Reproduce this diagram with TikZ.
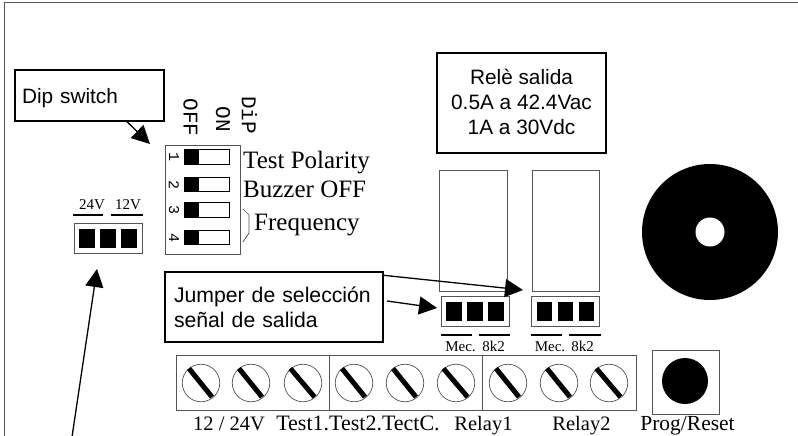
\documentclass[tikz,border=0pt]{standalone}
\usepackage{fontspec}
\setmainfont{Liberation Sans}
\newfontfamily\timesfont{Liberation Serif}
\newfontfamily\monofont{Liberation Mono}
\usetikzlibrary{arrows.meta, shapes.geometric}
\definecolor{edgegray}{gray}{0.33}

\begin{document}
\begin{tikzpicture}[x=1pt,y=-1pt,>={Triangle[length=18pt,width=18pt]},
  notebox/.style={draw=black, line width=1.4pt, fill=white, inner sep=0pt},
  partbox/.style={draw=edgegray, line width=1pt, fill=white, inner sep=0pt},
  pad/.style={fill=black, inner sep=0pt, minimum height=19pt},
  jumperbar/.style={fill=black, inner sep=0pt, minimum height=2.6pt},
  pointer/.style={->, line width=1.3pt},
  labelsmall/.style={font=\timesfont\fontsize{15}{15}\selectfont, inner sep=0pt, anchor=base},
  labelbig/.style={font=\timesfont\fontsize{25}{25}\selectfont, inner sep=0pt, anchor=base west},
  labelterm/.style={font=\timesfont\fontsize{20.5}{20.5}\selectfont, inner sep=0pt, anchor=base},
  labeldip/.style={font=\monofont\fontsize{21}{21}\selectfont, inner sep=0pt, rotate=-90},
  labelnum/.style={font=\monofont\fontsize{15}{15}\selectfont, inner sep=0pt, rotate=-90},
  jumper/.pic={
    \node[partbox, minimum width=68pt, minimum height=30pt] (box) {};
    \node[pad, minimum width=15.5pt] (a) at (-21,0) {};
    \node[pad, minimum width=15.5pt] (b) at (0,0) {};
    \node[pad, minimum width=15.5pt] (c) at (21,0) {};
  },
  slider/.pic={
    \node[draw=black, line width=0.9pt, fill=white, inner sep=0pt, minimum width=45pt, minimum height=14.5pt] (box) {};
    \node[fill=black, inner sep=0pt, minimum width=15pt, minimum height=14.5pt] (knob) at (-15,0) {};
  },
  screw/.pic={
    \node[circle, draw=edgegray, line width=0.7pt, fill=white, inner sep=0pt, minimum size=37.5pt] (head) {};
    \draw[line width=5pt] (-12,-14.5) -- (11,14);
  },
]
  \useasboundingbox (0,0) rectangle (798,436);

  % outer board edge
  \draw[edgegray, line width=1.2pt] (4.5,436) -- (4.5,2.5) -- (798,2.5);

  % notes
  \node[notebox, minimum width=149pt, minimum height=51pt, align=left, text width=135pt, text height=20pt, font=\fontsize{20.8}{25}\selectfont] (dipnote) at (89.5,95.5) {Dip switch};
  \node[notebox, minimum width=169pt, minimum height=100pt, align=center, text depth=3pt, font=\fontsize{20.8}{25}\selectfont] (relaynote) at (521.5,103) {Relè salida\\0.5A a 42.4Vac\\1A a 30Vdc};
  \node[notebox, minimum width=218pt, minimum height=70pt, align=left, text width=200pt, font=\fontsize{21.2}{25}\selectfont] (jumpernote) at (274,307) {Jumper de selección\\señal de salida};

  % dip switch
  \node[partbox, minimum width=75pt, minimum height=109pt] (dip) at (202.5,199.5) {};
  \pic (sw1) at (206.5,157) {slider};
  \pic (sw2) at (206.5,184.5) {slider};
  \pic (sw3) at (206.5,210) {slider};
  \pic (sw4) at (206.5,237.5) {slider};
  \node[labelnum] (num1) at (174,157) {1};
  \node[labelnum] (num2) at (174,184.5) {2};
  \node[labelnum] (num3) at (174,210) {3};
  \node[labelnum] (num4) at (174,237.5) {4};
  \node[labeldip] (off) at (190.5,117.5) {OFF};
  \node[labeldip] (on) at (223,119.5) {ON};
  \node[labeldip] (dipname) at (249.5,115) {DiP};
  \node[labelbig] (polarity) at (243,168) {Test Polarity};
  \node[labelbig] (buzzer) at (243,197) {Buzzer OFF};
  \node[labelbig] (freq) at (254,230) {Frequency};
  \draw[edgegray, line width=0.7pt] (243,209) -- (249,215) -- (249,233) -- (243,242);

  % supply jumper
  \pic (jsupply) at (108,238.5) {jumper};
  \node[jumperbar, minimum width=30pt] (bar24) at (88,215) {};
  \node[jumperbar, minimum width=32pt] (bar12) at (127,215) {};
  \node[labelsmall] (v24) at (92,209) {24V};
  \node[labelsmall] (v12) at (128,209) {12V};

  % relays
  \node[partbox, minimum width=68pt, minimum height=121pt] (relay1) at (473,230.5) {};
  \node[partbox, minimum width=67pt, minimum height=121pt] (relay2) at (565.5,230.5) {};
  \pic (jrelay1) at (475,311) {jumper};
  \pic (jrelay2) at (565.5,311) {jumper};
  \node[jumperbar, minimum width=31pt] (barmec1) at (456.5,335) {};
  \node[jumperbar, minimum width=31pt] (bark1) at (494.5,335) {};
  \node[jumperbar, minimum width=31pt] (barmec2) at (546.5,335) {};
  \node[jumperbar, minimum width=32pt] (bark2) at (585,335) {};
  \node[labelsmall] (mec1) at (460.5,351) {Mec.};
  \node[labelsmall] (res1) at (493.5,351) {8k2};
  \node[labelsmall] (mec2) at (550,351) {Mec.};
  \node[labelsmall] (res2) at (582.5,351) {8k2};

  % buzzer
  \node[circle, fill=black, inner sep=0pt, minimum size=136pt] (sounder) at (710,232) {};
  \node[circle, fill=white, inner sep=0pt, minimum size=29pt] (hole) at (710,232) {};

  % terminals
  \node[partbox, minimum width=153pt, minimum height=55pt] (term1) at (252.5,382.5) {};
  \node[partbox, minimum width=153pt, minimum height=55pt] (term2) at (405.5,382.5) {};
  \node[partbox, minimum width=154pt, minimum height=55pt] (term3) at (559,382.5) {};
  \pic (s1) at (201,383) {screw};
  \pic (s2) at (251,383) {screw};
  \pic[xscale=1.05] (s3) at (303,383) {screw};
  \pic (s4) at (354,383) {screw};
  \pic (s5) at (405,383) {screw};
  \pic[xscale=1.05] (s6) at (456,383) {screw};
  \pic (s7) at (508,383) {screw};
  \pic (s8) at (559,383) {screw};
  \pic[xscale=1.05] (s9) at (609,383) {screw};
  \node[labelterm] (supply) at (229,430) {12 / 24V};
  \node[labelterm, font=\timesfont\fontsize{22}{22}\selectfont] (tests) at (358,430) {Test1.Test2.TectC.};
  \node[labelterm] (rel1) at (483.5,430) {Relay1};
  \node[labelterm] (rel2) at (581.5,430) {Relay2};

  % prog button
  \node[partbox, minimum width=67pt, minimum height=64pt] (prog) at (685.5,382) {};
  \node[circle, fill=black, inner sep=0pt, minimum size=46pt] (progbtn) at (685,381) {};
  \node[labelterm, font=\timesfont\fontsize{21.5}{21.5}\selectfont] (progname) at (687.5,430) {Prog/Reset};

  % pointers
  \coordinate (dipend) at (150,144);
  \coordinate (supplystart) at (72,437);
  \coordinate (supplyend) at (97,269);
  \coordinate (jumperstart) at (387,301);
  \coordinate (jumperend) at (437,308);
  \coordinate (relayend) at (523,290);
  \path[pointer]
    ([xshift=37.5pt]dipnote.south) edge (dipend)
    (supplystart) edge (supplyend)
    (jumperstart) edge (jumperend)
    ([yshift=-4pt]jumpernote.north east) edge (relayend);
\end{tikzpicture}
\end{document}
